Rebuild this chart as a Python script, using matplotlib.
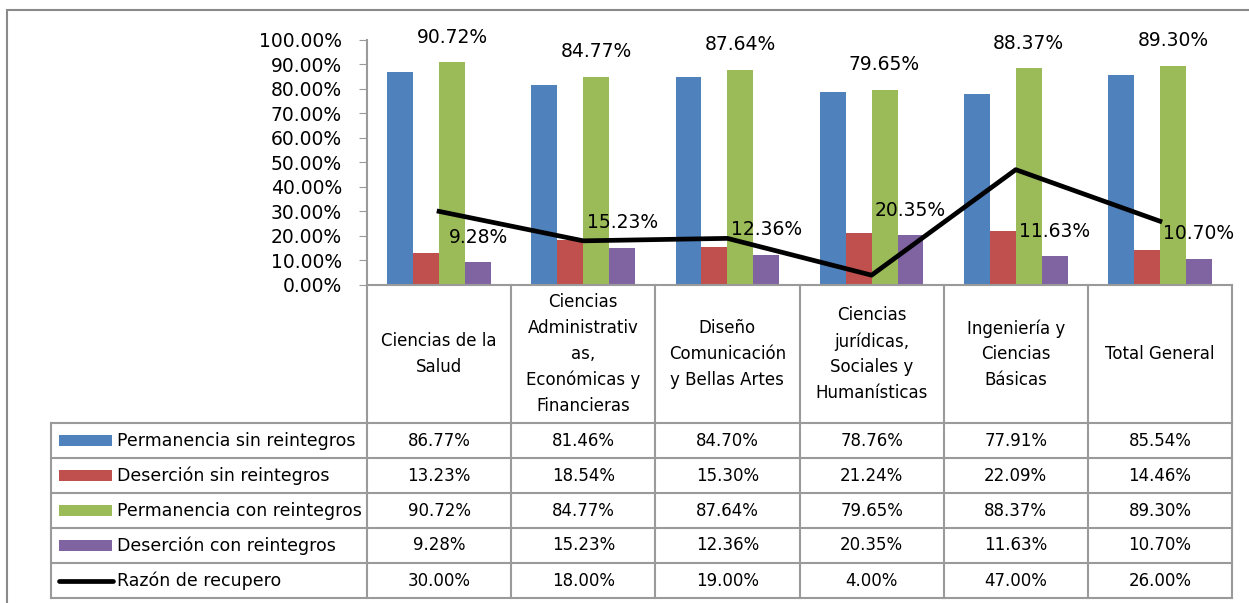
import matplotlib.pyplot as plt
import numpy as np
from matplotlib.ticker import PercentFormatter
from matplotlib.patches import Rectangle

categorias = ["Ciencias de la\nSalud",
              "Ciencias\nAdministrativ\nas,\nEconómicas y\nFinancieras",
              "Diseño\nComunicación\ny Bellas Artes",
              "Ciencias\njurídicas,\nSociales y\nHumanísticas",
              "Ingeniería y\nCiencias\nBásicas",
              "Total General"]

series = ["Permanencia sin reintegros", "Deserción sin reintegros",
          "Permanencia con reintegros", "Deserción con reintegros"]
perm_sin = [86.77, 81.46, 84.70, 78.76, 77.91, 85.54]
des_sin = [13.23, 18.54, 15.30, 21.24, 22.09, 14.46]
perm_con = [90.72, 84.77, 87.64, 79.65, 88.37, 89.30]
des_con = [9.28, 15.23, 12.36, 20.35, 11.63, 10.70]
razon = [30.00, 18.00, 19.00, 4.00, 47.00, 26.00]
linea = "Razón de recupero"

colores = ["#4F81BD", "#C0504D", "#9BBB59", "#8064A2"]
gris = "#9a9a9a"
fs = 13.5

W, H = 1249, 603
fig = plt.figure(figsize=(W / 100, H / 100), dpi=100)

def fx(px):
    return px / W

def fy(py):
    return 1 - py / H

# marco exterior
fig.add_artist(Rectangle((fx(6.5), fy(700)), 1.2, fy(10) - fy(700),
                         transform=fig.transFigure, fill=False,
                         edgecolor="#8a8a8a", lw=1.5))

# grafico de barras + linea
ax = fig.add_axes([fx(367), fy(285), fx(1232) - fx(367), (285 - 39.6) / H])
x = np.arange(len(categorias))
bw = 0.18
valores = [perm_sin, des_sin, perm_con, des_con]
for i, (vals, c) in enumerate(zip(valores, colores)):
    ax.bar(x + (i - 1.5) * bw, np.array(vals) / 100, bw, color=c, zorder=2)

ax.plot(x, np.array(razon) / 100, color="black", lw=3.4, zorder=3)

for xi, v in zip(x, perm_con):
    ax.annotate(f"{v:.2f}%", (xi + 0.5 * bw, v / 100), xytext=(0, 18),
                textcoords="offset points", ha="center", va="center",
                fontsize=fs, zorder=4)
for xi, v in zip(x, des_con):
    ax.annotate(f"{v:.2f}%", (xi + 1.5 * bw, v / 100), xytext=(0, 18),
                textcoords="offset points", ha="center", va="center",
                fontsize=fs, zorder=4)

ax.set_xlim(-0.5, 5.5)
ax.set_ylim(0, 1)
ax.set_yticks(np.arange(0, 1.01, 0.1))
ax.yaxis.set_major_formatter(PercentFormatter(1, decimals=2))
ax.tick_params(axis="y", labelsize=fs, length=6, color=gris, pad=12)
ax.set_xticks([])
for s in ["top", "right"]:
    ax.spines[s].set_visible(False)
for s in ["left", "bottom"]:
    ax.spines[s].set_color(gris)
    ax.spines[s].set_linewidth(1.5)

# tabla de datos
hdr = (423 - 285) / 35
tab = fig.add_axes([fx(51), fy(598), fx(1232) - fx(51), (598 - 285) / H])
x0 = -0.5 - (367 - 51) / ((1232 - 367) / 6)
tab.set_xlim(x0, 5.5)
tab.set_ylim(5, -hdr)
tab.axis("off")

kw = dict(color=gris, lw=1.5, clip_on=False)
for k in range(7):
    tab.plot([k - 0.5, k - 0.5], [-hdr, 5], **kw)
tab.plot([x0, x0], [0, 5], **kw)
for r in range(6):
    tab.plot([x0, 5.5], [r, r], **kw)

for xi, cat in zip(x, categorias):
    tab.text(xi, -hdr / 2, cat, ha="center", va="center", fontsize=12,
             linespacing=1.55)

filas = valores + [razon]
nombres = series + [linea]
ux = (1232 - 367) / 6
for r, (nombre, vals) in enumerate(zip(nombres, filas)):
    yc = r + 0.5
    sx0 = x0 + (59 - 51) / ux
    sx1 = x0 + (112 - 51) / ux
    if r < 4:
        tab.add_patch(Rectangle((sx0, yc - 0.17), sx1 - sx0, 0.34,
                                color=colores[r], lw=0))
    else:
        tab.plot([sx0, sx1 + 1 / ux], [yc, yc], color="black", lw=3.4,
                 solid_capstyle="round")
    tab.text(x0 + (117 - 51) / ux, yc, nombre, ha="left", va="center",
             fontsize=12.5)
    for xi, v in zip(x, vals):
        tab.text(xi, yc, f"{v:.2f}%", ha="center", va="center", fontsize=12)

fig.savefig("out.png", dpi=100)
